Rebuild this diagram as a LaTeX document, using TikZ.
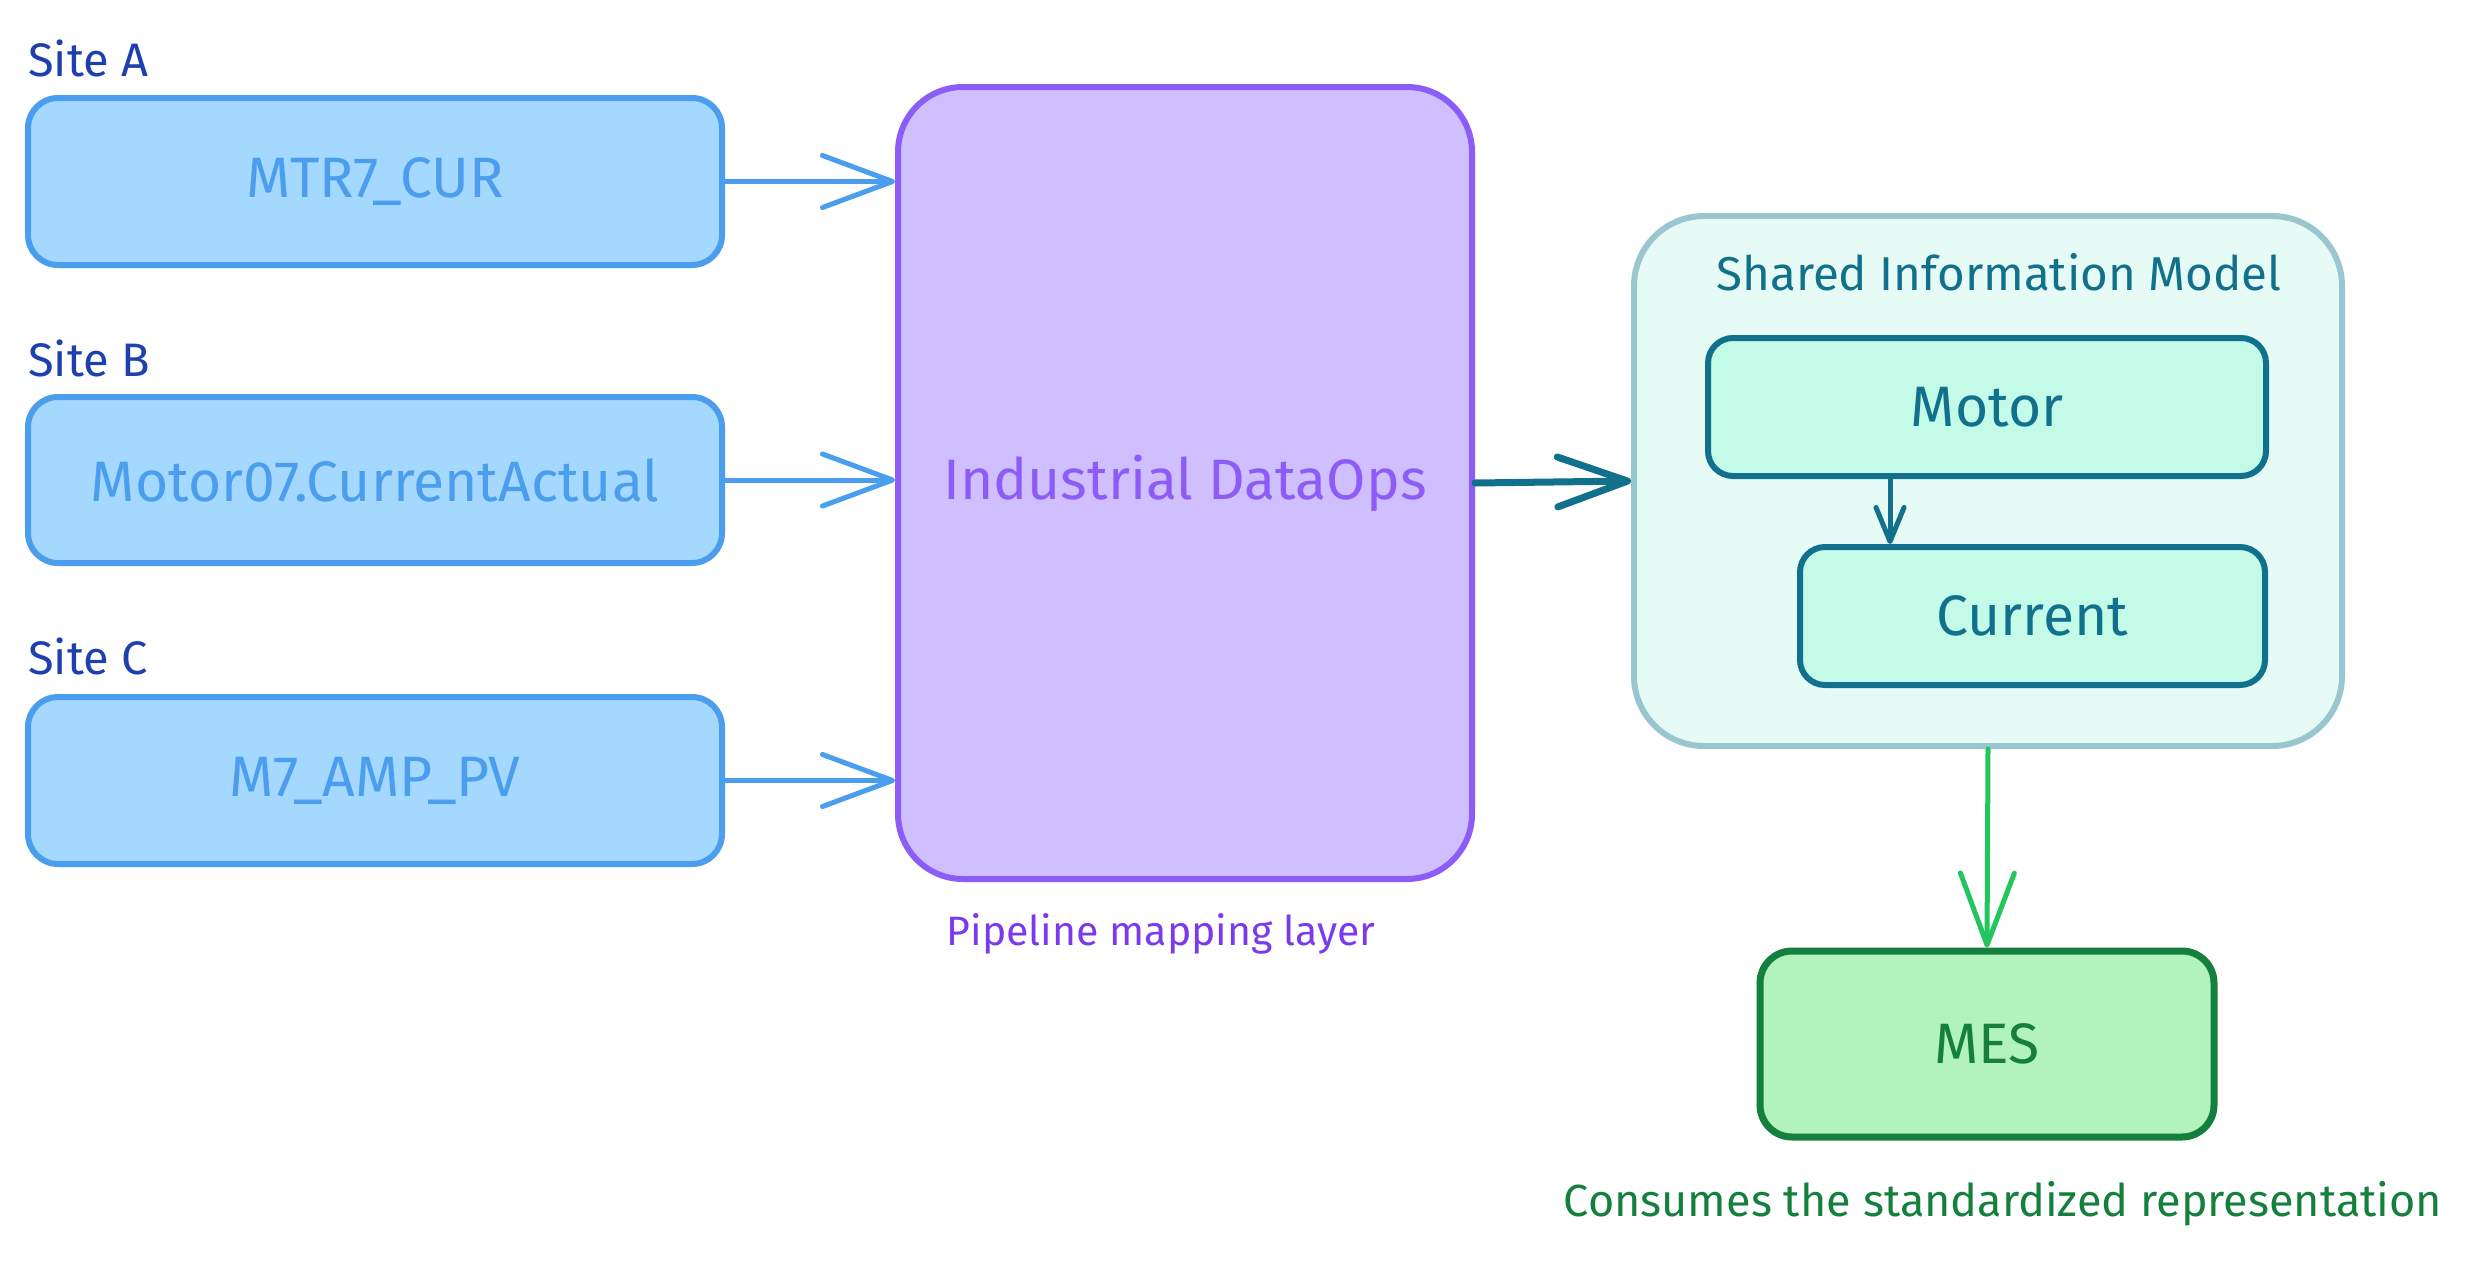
\documentclass[tikz,border=0pt]{standalone}
\usepackage{fontspec}
\setmainfont{Fira Sans}
\usetikzlibrary{arrows.meta}
\definecolor{blueS}{HTML}{4A9EED}
\definecolor{blueF}{HTML}{A5D8FF}
\definecolor{siteC}{HTML}{1E40AF}
\definecolor{purS}{HTML}{8B5CF6}
\definecolor{purF}{HTML}{D0BFFF}
\definecolor{purT}{HTML}{7C3AED}
\definecolor{simF}{HTML}{E6FBF5}
\definecolor{simS}{HTML}{9AC6D0}
\definecolor{tealS}{HTML}{11708C}
\definecolor{mintF}{HTML}{C3FAE8}
\definecolor{grnA}{HTML}{22C55E}
\definecolor{grnS}{HTML}{15803D}
\definecolor{grnF}{HTML}{B2F2BB}
\begin{document}
\begin{tikzpicture}[x=1pt,y=-1pt,
  bluebox/.style={draw=blueS, fill=blueF, line width=6pt, rounded corners=30pt, text=blueS,
    font=\fontsize{57}{68}\selectfont, inner sep=0pt},
  purbox/.style={draw=purS, fill=purF, line width=6pt, rounded corners=65pt, text=purS,
    font=\fontsize{57}{68}\selectfont, inner sep=0pt},
  simbox/.style={draw=simS, fill=simF, line width=6pt, rounded corners=70pt, inner sep=0pt},
  mintbox/.style={draw=tealS, fill=mintF, line width=6pt, rounded corners=25pt, text=tealS,
    font=\fontsize{57}{68}\selectfont, inner sep=0pt},
  mesbox/.style={draw=grnS, fill=grnF, line width=7pt, rounded corners=32pt, text=grnS,
    font=\fontsize{57}{68}\selectfont, inner sep=0pt},
  sitelabel/.style={anchor=west, text=siteC, font=\fontsize{47}{56}\selectfont, inner sep=0pt},
  capt/.style={font=\fontsize{45}{54}\selectfont, inner sep=0pt},
  bluearrow/.style={draw=blueS, line width=5pt, line cap=round, line join=round,
    -{Straight Barb[length=70pt,width=52pt,line cap=round,line join=round]}},
  tealarrow/.style={draw=tealS, line width=7pt, line cap=round, line join=round,
    -{Straight Barb[length=70pt,width=50pt,line cap=round,line join=round]}},
  smallarrow/.style={draw=tealS, line width=5pt, line cap=round, line join=round,
    -{Straight Barb[length=34pt,width=28pt,line cap=round,line join=round]}},
  greenarrow/.style={draw=grnA, line width=5pt, line cap=round, line join=round,
    -{Straight Barb[length=72pt,width=54pt,line cap=round,line join=round]}}
]
\fill[white] (0,0) rectangle (2471,1261);
\useasboundingbox (0,0) rectangle (2471,1261);

% site labels
\node[sitelabel] (la) at (28,58) {Site A};
\node[sitelabel] (lb) at (28,358) {Site B};
\node[sitelabel] (lc) at (28,656) {Site C};

% source boxes
\node[bluebox, minimum width=694pt, minimum height=167pt] (A) at (375,181.5) {MTR7\_CUR};
\node[bluebox, minimum width=694pt, minimum height=166pt] (B) at (375,480) {Motor07.CurrentActual};
\node[bluebox, minimum width=694pt, minimum height=167pt] (C) at (375,780.5) {M7\_AMP\_PV};

% DataOps
\node[purbox, minimum width=574pt, minimum height=792pt] (P) at (1185,483) {Industrial DataOps};
\node[capt, text=purT, font=\fontsize{41}{50}\selectfont] (pl) at (1161,934) {Pipeline mapping layer};

% Shared information model
\node[simbox, minimum width=708pt, minimum height=530pt] (S) at (1988,481) {};
\node[capt, text=tealS, font=\fontsize{47.5}{56}\selectfont] (st) at (1999,272) {Shared Information Model};
\node[mintbox, minimum width=558pt, minimum height=138pt] (M) at (1987,407) {Motor};
\node[mintbox, minimum width=465pt, minimum height=138pt] (Cu) at (2032.5,616) {Current};
\coordinate (mc) at (1890,0);

% MES
\node[mesbox, minimum width=454pt, minimum height=186pt] (E) at (1987,1044) {MES};
\node[capt, text=grnS] (ec) at (2003,1204) {Consumes the standardized representation};

% connectors
\draw[bluearrow] (A.east) -- (P.west |- A.east);
\draw[bluearrow] (B.east) -- (P.west |- B.east);
\draw[bluearrow] (C.east) -- (P.west |- C.east);
\draw[tealarrow] (P.east) -- (S.west);
\draw[smallarrow] (M.south -| mc) -- (Cu.north -| mc);
\draw[greenarrow] (S.south) -- (E.north);
\end{tikzpicture}
\end{document}
